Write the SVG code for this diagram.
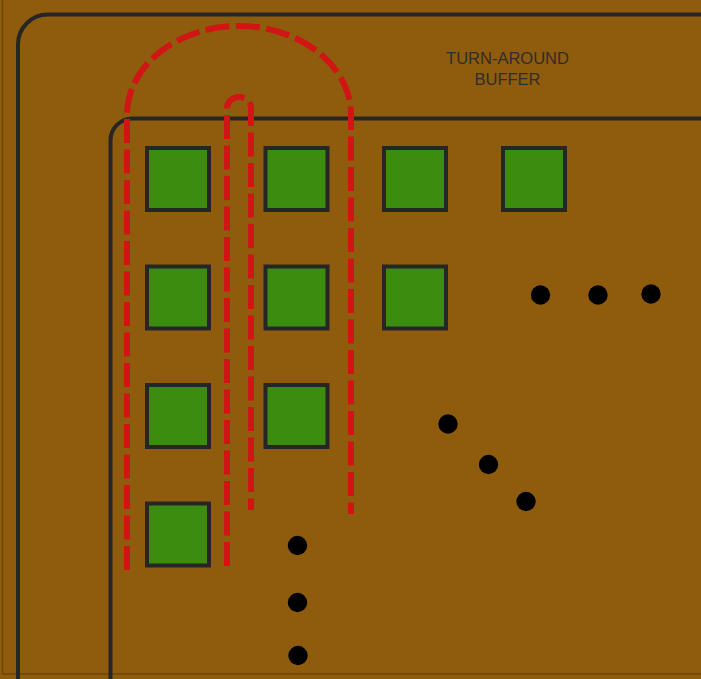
<svg xmlns="http://www.w3.org/2000/svg" width="701" height="679" viewBox="0 0 701 679">
<style>
.frame{fill:none;stroke:#262626;stroke-width:4}
.sq{fill:#3c8c10;stroke:#262626;stroke-width:4}
.dot{fill:#000}
.route{fill:none;stroke:#d11414;stroke-width:6;stroke-dasharray:24 6.5}
.lbl{font-family:"Liberation Sans",Arial,sans-serif;font-size:16.5px;fill:#2e2e2e;text-anchor:middle}
</style>
<rect x="0" y="0" width="701" height="679" fill="#8e5c0c"/>
<path d="M2.5 0 V674 H701" fill="none" stroke="#6e4608" stroke-width="1.5"/>
<g id="outer-frame"><rect class="frame" x="18" y="14.5" width="720" height="700" rx="30" ry="30"/></g>
<g id="inner-frame"><rect class="frame" x="110.5" y="118.5" width="620" height="600" rx="22" ry="22"/></g>
<g id="label"><text class="lbl" x="507.5" y="64">TURN-AROUND</text><text class="lbl" x="507.5" y="85">BUFFER</text></g>
<g id="connectors">
<path class="route" d="M127 570 V115 A112 89 0 0 1 351 115 V514"/>
<path class="route" d="M227 566 V108 A12 11 0 0 1 251 108 V510"/>
</g>
<g id="cell-1-1"><rect class="sq" x="147" y="148" width="62" height="62"/></g>
<g id="cell-1-2"><rect class="sq" x="265.5" y="148" width="62" height="62"/></g>
<g id="cell-1-3"><rect class="sq" x="384" y="148" width="62" height="62"/></g>
<g id="cell-1-4"><rect class="sq" x="503" y="148" width="62" height="62"/></g>
<g id="cell-2-1"><rect class="sq" x="147" y="266.5" width="62" height="62"/></g>
<g id="cell-2-2"><rect class="sq" x="265.5" y="266.5" width="62" height="62"/></g>
<g id="cell-2-3"><rect class="sq" x="384" y="266.5" width="62" height="62"/></g>
<g id="cell-3-1"><rect class="sq" x="147" y="385" width="62" height="62"/></g>
<g id="cell-3-2"><rect class="sq" x="265.5" y="385" width="62" height="62"/></g>
<g id="cell-4-1"><rect class="sq" x="147" y="503.5" width="62" height="62"/></g>
<g id="dots">
<circle class="dot" cx="540.5" cy="295" r="9.7"/>
<circle class="dot" cx="598" cy="295" r="9.7"/>
<circle class="dot" cx="651" cy="294" r="9.7"/>
<circle class="dot" cx="448" cy="424" r="9.7"/>
<circle class="dot" cx="488.5" cy="464.5" r="9.7"/>
<circle class="dot" cx="526" cy="501.5" r="9.7"/>
<circle class="dot" cx="297.5" cy="545.5" r="9.7"/>
<circle class="dot" cx="297.5" cy="602.5" r="9.7"/>
<circle class="dot" cx="298" cy="655.5" r="9.7"/>
</g>
</svg>
